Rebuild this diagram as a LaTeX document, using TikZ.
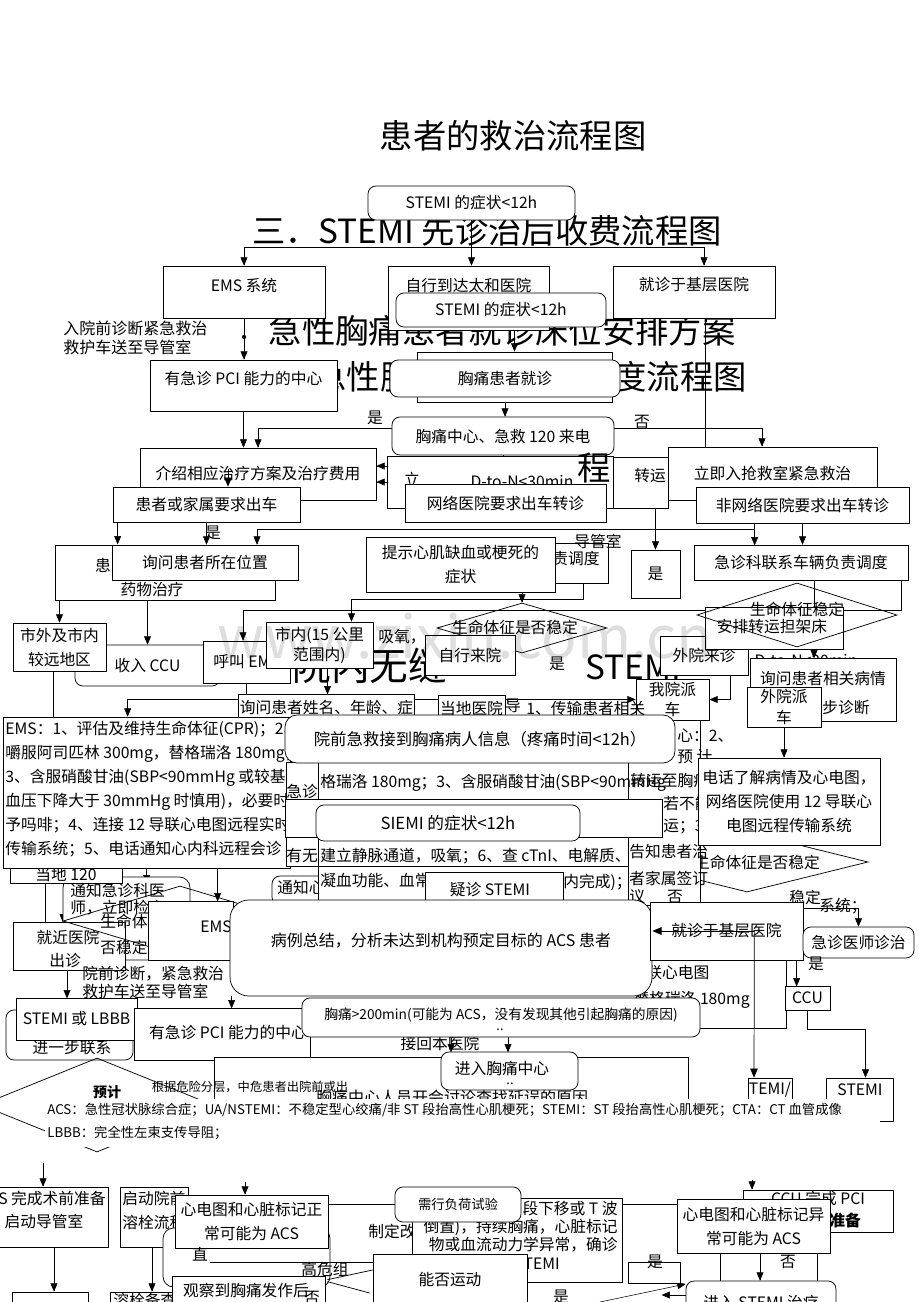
\documentclass[tikz,border=0pt]{standalone}
\usepackage{fontspec}
\setmainfont{Noto Sans CJK SC}
\usepackage{tikz}
\usetikzlibrary{arrows,calc,shapes.geometric,backgrounds}

\begin{document}
\begin{tikzpicture}[x=0.75pt,y=-0.75pt,line width=0.55pt,>=triangle 45,
		box/.style={draw,fill=white,inner sep=1pt,align=center,font=\fontsize{11.8}{18}\selectfont},
		rbox/.style={box,rounded corners=6pt},
		wh/.style 2 args={minimum width=#1*0.75pt,minimum height=#2*0.75pt},
		txt/.style={inner sep=0pt,align=left,font=\fontsize{11.8}{18}\selectfont},
		big/.style={inner sep=0pt,font=\fontsize{25}{30}\selectfont},
		smtxt/.style={font=\fontsize{9.5}{12}\selectfont},
		dia/.style={draw,diamond,inner sep=0pt}]
		\useasboundingbox (0,0) rectangle (920,1302);
		\begin{scope}[on background layer]
		\fill[white] (0,0) rectangle (920,1302);
		\end{scope}
		\node[big] (t0) at (513,136) {患者的救治流程图};
		\node[big] (h3) at (487,231) {三．STEMI 先诊治后收费流程图};
		\node[big] (h2) at (502,331) {急性胸痛患者就诊床位安排方案};
		\node[big] (h4) at (530,377) {急性胸痛患者院内调度流程图};
		\node[big,font=\fontsize{29}{32}\selectfont,anchor=west] (h6) at (292,666) {院内无缝};
		\node[big,anchor=west] (h7) at (585,667) {STEMI};
		
		\node[rbox,wh={207}{34}] (s1) at (471.5,203) {STEMI 的症状<12h};
		\node[box,wh={162}{52}] (ems) at (244,292) {};
		\node[txt] (emsl) at (244,285) {EMS 系统};
		\node[box,wh={161}{64}] (zx) at (468.5,298) {};
		\node[txt] (zxl) at (468.5,285) {自行到达太和医院};
		\node[box,wh={162}{52}] (jz) at (694,292) {};
		\node[txt] (jzl) at (694,285) {就诊于基层医院};
		\node[txt,anchor=west,font=\fontsize{12}{14.5}\selectfont] (rq) at (63,338) {入院前诊断紧急救治\\救护车送至导管室};
		\node[rbox,wh={210}{34}] (s2) at (501,310) {STEMI 的症状<12h};
		\node[box,wh={187}{51}] (pci1) at (243.5,385.5) {};
		\node[txt] (pci1l) at (243.5,379) {有急诊 PCI 能力的中心};
		\node[box,wh={195}{50}] (bk1) at (514.5,377) {};
		\node[rbox,wh={230}{37}] (r1) at (505,378.5) {胸痛患者就诊};
		\node[txt] (yes1) at (375,418) {是};
		\node[txt] (no1) at (642,422) {否};
		\node[rbox,wh={222}{38}] (r2) at (503,436) {胸痛中心、急救 120 来电};
		\node[box,wh={236}{52}] (js) at (258,474) {介绍相应治疗方案及治疗费用};
		\node[box,wh={226}{52}] (bk2) at (500,482) {};
		\node[txt] (li) at (412,479) {立};
		\node[txt] (dtn1) at (522,482) {D-to-N<30min};
		\node[big] (h5) at (594,468) {程};
		\node[box,wh={209}{53}] (qj) at (772.5,473.5) {立即入抢救室紧急救治};
		\node[box,wh={55}{51}] (zy) at (640.5,482.5) {};
		\node[txt] (zyl) at (650,476) {转运};
		\node[box,wh={187}{35}] (hz) at (206.5,504.5) {患者或家属要求出车};
		\draw[->] ($(js.center)+(-30,-5)$) -- ($(hz.north)+(21.5,0)$);
		\node[box,wh={201}{38}] (wl) at (505.5,503) {网络医院要求出车转诊};
		\node[box,wh={213}{36}] (fw) at (802.5,505) {非网络医院要求出车转诊};
		\node[txt] (yes2) at (213,533) {是};
		\node[box,wh={220}{55}] (hz2) at (165,572.5) {};
		\node[txt] (hz2a) at (103,565) {患};
		\node[txt] (hz2b) at (152,589) {药物治疗};
		\node[box,wh={186}{35}] (xw) at (205,562.5) {询问患者所在位置};
		\node[box,wh={68}{40}] (fd) at (574,563) {};
		\node[txt,anchor=east] (fdl) at (600,558) {负责调度};
		\node[txt,anchor=east] (dgs) at (622,541) {导管室};
		\node[box,wh={189}{55}] (ts) at (460.5,564.5) {提示心肌缺血或梗死的\\症状};
		\node[box,wh={49}{48}] (sbx) at (655.5,574) {是};
		\node[box,wh={214}{35}] (jd) at (801,562.5) {急诊科联系车辆负责调度};
		
		\node[rbox,wh={145}{41}] (ccu) at (147.5,665.5) {收入 CCU};
		\node[box,wh={93}{48}] (sw) at (59.5,647) {市外及市内\\较远地区};
		\node[box,wh={87}{42}] (hj) at (246.5,662) {呼叫 EMS};
		\node[box,wh={107}{46},font=\fontsize{11.8}{15}\selectfont] (sn) at (319.5,645) {市内(15 公里\\范围内)};
		\node[txt] (xy) at (402,637) {吸氧，};
		\node[dia,wh={170}{50}] (sm1) at (522,628) {};
		\node[txt] (sm1l) at (515,627) {生命体征是否稳定};
		\node[box,wh={90}{40}] (zx2) at (470,655) {自行来院};
		\node[txt] (yes3) at (557,664) {是};
		\node[box,wh={88}{39}] (wy) at (704,655.5) {外院来诊};
		\node[box,wh={138}{42}] (ap) at (774,628) {};
		\node[txt] (apl) at (772,627) {安排转运担架床};
		\node[dia,wh={200}{64}] (sm2) at (797,615) {};
		\node[txt] (sm2l) at (797,609) {生命体征稳定};
		\node[txt] (dtn2) at (806,660) {D-to-N<30min};
		\node[box,wh={146}{63}] (xb) at (823,689.5) {};
		\node[txt] (xbl) at (823,678) {询问患者相关病情};
		\node[txt,anchor=east] (xbl2) at (870,708) {初步诊断};
		\node[box,wh={74}{40},font=\fontsize{11.8}{15.5}\selectfont] (wp) at (784,707) {外院派\\车};
		\node[box,wh={73}{41},font=\fontsize{11.8}{15.5}\selectfont] (wo) at (672.5,699.5) {我院派\\车};
		\node[box,wh={173}{27}] (xm) at (326.5,707.5) {询问患者姓名、年龄、症};
		\node[box,wh={67}{26}] (dy) at (471.5,708) {当地医院};
		\node[txt] (dyd) at (513,706) {导};
		\node[txt,anchor=west] (cs1) at (526,708) {1、传输患者相关};
		
		\node[rbox,wh={127}{83},rounded corners=8pt] (tzj) at (126.5,918.5) {};
		\node[txt,anchor=west] (tzj1) at (70,890) {通知急诊科医};
		\node[txt,anchor=west] (tzj2) at (70,908) {师，立即检查};
		\node[box,wh={112}{28}] (dd) at (66,869) {};
		\node[txt] (ddl) at (66,875) {当地 120};
		\node[box,wh={287}{151}] (et) at (146.5,792.5) {};
		\node[txt,anchor=north west] (etl) at (5,721) {EMS：1、评估及维持生命体征(CPR)；2、\\嚼服阿司匹林 300mg，替格瑞洛 180mg；\\3、含服硝酸甘油(SBP<90mmHg 或较基础\\血压下降大于 30mmHg 时慎用)，必要时给\\予吗啡；4、连接 12 导联心电图远程实时\\传输系统；5、电话通知心内科远程会诊};
		\node[dia,wh={242}{60}] (sm3) at (747,862) {};
		\node[txt] (sm3l) at (757,862) {生命体征是否稳定};
		\node[box,wh={74}{185}] (cl) at (663,812.5) {};
		\node[txt,anchor=west] (cla) at (677,736) {心：2、};
		\node[txt,anchor=west] (clb) at (677,757) {预 计};
		\node[txt,anchor=west] (clc) at (630,780) {转运至胸痛};
		\node[txt,anchor=west] (cld) at (663,803) {若不能};
		\node[txt,anchor=west] (cle) at (663,827) {运；3};
		\node[txt,anchor=west] (clf) at (629,852) {告知患者治};
		\node[txt,anchor=west] (clg) at (629,878) {者家属签订};
		\node[txt,anchor=west] (clh) at (629,897) {议};
		\node[txt] (cli) at (675,897) {否};
		\node[box,wh={182}{87}] (dh) at (789,801.5) {电话了解病情及心电图，\\网络医院使用 12 导联心\\电图远程传输系统};
		\node[box,wh={342}{104}] (mb1) at (457,814) {};
		\node[txt,anchor=west] (mb1a) at (320,783) {格瑞洛 180mg；3、含服硝酸甘油(SBP<90mmHg};
		\node[txt,anchor=west] (mb1b) at (320,856) {建立静脉通道，吸氧；6、查 cTnI、电解质、};
		\node[txt] (mb1c) at (302,791) {急诊};
		\node[txt] (mb1d) at (302,856) {有无};
		\node[rbox,wh={58}{29}] (tz) at (301,890.5) {};
		\node[txt,anchor=west] (tzl) at (277,888) {通知心内科};
		\node[box,wh={310}{39}] (mb2) at (473,885.5) {};
		\node[txt,anchor=west] (mb2a) at (320,881) {凝血功能、血常规};
		\node[txt,anchor=west] (mb2b) at (563,882) {内完成)；};
		\draw (318,762) -- (318,905);
		\node[box,wh={377}{38}] (sq) at (473.5,818) {};
		\node[rbox,wh={390}{48},rounded corners=9pt,font=\fontsize{12.3}{15}\selectfont] (yq) at (480,739) {院前急救接到胸痛病人信息（疼痛时间<12h）};
		\node[rbox,wh={264}{36},font=\fontsize{12.5}{15}\selectfont] (si) at (448,823) {SIEMI 的症状<12h};
		\node[box,wh={138}{40}] (yz) at (494,892) {};
		\node[txt] (yzl) at (490,890) {疑诊 STEMI};
		
		\node[box,wh={112}{48}] (jj) at (69,946) {};
		\node[txt] (jjl1) at (68,937) {就近医院};
		\node[txt] (jjl2) at (65,960) {出诊};
		\node[dia,wh={234}{70}] (dm) at (180,921) {};
		\node[txt,anchor=west] (dml1) at (100,921) {生命体征是};
		\node[txt,anchor=west] (dml2) at (100,947) {否稳定};
		\node[box,wh={85}{59}] (em2) at (190.5,930.5) {};
		\node[txt,anchor=west] (em2l) at (200,927) {EMS};
		\node[box,wh={146}{68}] (lx) at (713,994) {};
		\node[txt,anchor=west] (lxl) at (646,973) {联心电图};
		\node[txt,anchor=east] (lx2) at (750,1000) {替格瑞洛 180mg};
		\node[rbox,wh={422}{96},rounded corners=14pt] (bl) at (441,948) {};
		\node[txt,font=\fontsize{12}{15}\selectfont] (bll) at (441,941) {病例总结，分析未达到机构预定目标的 ACS 患者};
		\node[txt,anchor=west,font=\fontsize{11.8}{13.5}\selectfont] (yqz) at (82,982) {院前诊断，紧急救治\\救护车送至导管室};
		\node[txt] (wd) at (805,897) {稳定};
		\node[txt] (xt) at (843,906) {系统；};
		\node[box,wh={153}{58}] (j2) at (726.5,931) {就诊于基层医院};
		\draw[->] ($(j2.east)+(-49,0)$) -- (j2.center -| bl.east);
		\node[rbox,wh={111}{31}] (ys) at (858.5,942.5) {急诊医师诊治};
		\node[txt] (yes4) at (816,964) {是};
		\node[box,wh={45}{24}] (ccu3) at (807.5,998) {CCU};
		
		\node[rbox,wh={127}{50}] (jy) at (69.5,1035) {};
		\node[txt] (jyl) at (72,1048) {进一步联系};
		\node[box,wh={121}{42}] (sl) at (76.5,1019) {STEMI 或 LBBB};
		\node[box,wh={176}{52}] (pc2) at (222,1034) {};
		\node[txt] (pc2l) at (228,1033) {有急诊 PCI 能力的中心};
		\node[dia,wh={232}{94}] (dm2) at (97,1105) {};
		\node[box,wh={474}{43}] (bb) at (451,1078.5) {};
		\node[txt,font=\fontsize{9.2}{11}\selectfont] (gj) at (250,1087) {根据危险分层，中危患者出院前或出};
		\node[txt,font=\fontsize{12}{14}\selectfont] (kh) at (452,1097) {胸痛中心人员开会讨论查找延误的原因};
		\node[txt,font=\bfseries\fontsize{10.5}{12}\selectfont] (yj) at (107,1092) {预计};
		\node[txt] (jh) at (440,1043) {接回本医院};
		\node[rbox,wh={137}{38}] (jr) at (509.5,1071) {};
		\node[txt] (jrl) at (502,1068) {进入胸痛中心};
		\node[txt,smtxt] (jrd) at (510,1084) {..};
		\node[rbox,wh={398}{39}] (pr) at (501,1017.5) {};
		\node[txt,font=\fontsize{10.3}{12}\selectfont] (prl) at (501,1015) {胸痛>200min(可能为 ACS，没有发现其他引起胸痛的原因)};
		\node[txt,smtxt] (prd) at (500,1030) {..};
		\node[box,wh={44}{32}] (tm) at (770,1094) {};
		\node[txt] (tml) at (770,1090) {TEMI/};
		\draw[->] ($(j2.east)+(-49,0)$) -- ($(tm.north)+(-16,0)$);
		\node[box,wh={67}{43}] (st2) at (859.5,1099.5) {};
		\node[txt] (st2l) at (860,1090) {STEMI};
		\node[fill=white,inner sep=0pt,anchor=north west,wh={835}{48}] (nb) at (45,1099) {};
		\node[txt,anchor=west,font=\fontsize{10}{12}\selectfont] (n1) at (47,1110) {ACS：急性冠状脉综合症；UA/NSTEMI：不稳定型心绞痛/非 ST 段抬高性心肌梗死；STEMI：ST 段抬高性心肌梗死；CTA：CT 血管成像};
		\node[txt,anchor=west,font=\fontsize{10}{12}\selectfont] (n2) at (47,1133) {LBBB：完全性左束支传导阻；};
		
		\node[box,wh={120}{60}] (cs) at (48,1217) {};
		\node[txt,anchor=east] (csl) at (106,1198) {S 完成术前准备};
		\node[txt] (cs2) at (44,1221) {启动导管室};
		\node[box,wh={76}{40}] (b1) at (50,1312) {};
		\node[box,wh={68}{60}] (qd) at (154,1217) {};
		\node[txt,anchor=west] (qdl) at (122,1210) {启动院前\\溶栓流程};
		\node[box,wh={62}{40}] (b2) at (141,1312) {};
		\node[txt,anchor=west] (b2l) at (113,1300) {溶栓备查};
		\node[rbox,wh={167}{59},rounded corners=8pt] (rr) at (246.5,1257.5) {};
		\node[box,wh={153}{53}] (zb) at (251.5,1221.5) {心电图和心脏标记正\\常可能为 ACS};
		\node[txt] (zhi) at (200,1254) {直};
		\node[txt] (gw) at (325,1270) {高危组};
		\node[box,wh={153}{40}] (gc) at (248.5,1296) {};
		\node[txt] (gcl) at (246,1290) {观察到胸痛发作后};
		\node[txt] (no2) at (312,1298) {否};
		\node[txt,anchor=west] (zdg) at (368,1231) {制定改};
		\node[box,wh={210}{84}] (qz) at (517,1240) {};
		\node[txt,anchor=east] (qz1) at (618,1208) {段下移或 T 波};
		\node[txt,anchor=east] (qz2) at (618,1227) {倒置)，持续胸痛，心脏标记};
		\node[txt,anchor=east] (qz3) at (618,1245) {物或血流动力学异常，确诊};
		\node[txt,anchor=east] (qz4) at (560,1264) {STEMI};
		\node[rbox,wh={126}{35},font=\fontsize{10}{12}\selectfont] (fh) at (458,1204.5) {需行负荷试验};
		\node[box,wh={154}{56}] (nf) at (450,1282) {};
		\node[txt] (nfl) at (450,1280) {能否运动};
		\node[txt] (yes5) at (561,1297) {是};
		\node[box,wh={52}{21}] (sb) at (654,1272.5) {};
		\node[txt] (yes6) at (655,1262) {是};
		\node[box,wh={150}{42}] (cc2) at (818,1211) {};
		\node[txt] (cc2l) at (818,1198) {CCU 完成 PCI};
		\node[txt,font=\bfseries\fontsize{11.8}{14}\selectfont] (cc2b) at (845,1220) {准备};
		\node[box,wh={153}{54}] (yc) at (753.5,1226) {心电图和心脏标记异\\常可能为 ACS};
		\node[txt] (no3) at (788,1262) {否};
		\node[rbox,wh={150}{40}] (st3) at (761,1301) {};
		\node[txt] (st3l) at (761,1302) {进入 STEMI 治疗};
		\coordinate (c5) at (210,1262);
		\draw (c5) -- (c5 -| nf.west);
		\draw ($(gc.north east)+(2,4)$) -- ($(nf.west)+(0,-12)$);
		\draw ($(gc.north east)+(2,6)$) -- ($(nf.west)+(-3,11)$);
		
		\coordinate (hb) at (473,247);
		\coordinate (dt) at (244,337);
		\coordinate (c0) at (43,1163);
		\coordinate (c2) at (245,1182);
		\coordinate (c3) at (752,1180);
		\coordinate (c6) at (600,1302);
		\begin{scope}[on background layer]
		\draw[->] (s1.south) -- (s1.south |- zx.north);
		\draw[->] (s1.south |- hb) -| (ems.north);
		\draw[->] (s1.south |- hb) -| ($(jz.north)+(10,0)$);
		\draw[->] (ems.south) -- (ems.south |- pci1.north);
		\fill (dt) circle (1.6pt);
		\draw[->] (s2.south -| bk1.north) -- (bk1.north);
		\draw[->] (r1.south) -- (r1.south |- r2.north);
		\draw[->] ($(r2.west)+(0,-8)$) -| (js.north);
		\draw[->] ($(r2.east)+(0,-8)$) -| ($(qj.north)+(-10.5,0)$);
		\draw[->] (pci1.south) -- (pci1.south |- js.north);
		\draw[->] ($(jz.south)+(11,0)$) |- ($(js.east)+(0,-8)$);
		\draw[->] (bk2.west) -- (bk2.west -| js.east);
		\draw[->] (r2.south) -- (r2.south |- wl.north);
		\draw[->] (zy.south -| sbx.north) -- (sbx.north);
		\draw[->] (fw.south) -- (fw.south |- jd.north);
		\draw[->] ($(fw.south west)+(59,0)$) -- ++(0,22);
		\draw[->] ($(fw.south west)+(59,0)$) -- ++(0,6) -| ($(xw.north)+(52,0)$);
		\draw[->] ($(hz.south west)+(5,0)$) -- ++(0,22);
		\draw[->] (hz.south) -- (hz.south |- xw.north);
		\draw[->] ($(xw.south)+(-2,0)$) -- ++(0,17);
		\draw[->] (hz2.south -| sw.north) -- (sw.north);
		\draw[->] (hz2.south -| ccu.north) -- (ccu.north);
		\draw[->] ($(fd.south)+(9,0)$) |- ($(sn.north)+(32,-22)$) -- ($(sn.north)+(32,0)$);
		\draw[->] ($(jd.south)+(100,0)$) |- ($(hj.north)+(-3.5,-30)$) -- ($(hj.north)+(-3.5,0)$);
		\draw[->] ($(jd.south)+(13,0)$) -- ++(0,78);
		\draw[->] (ts.south -| sm1.north) -- (sm1.north);
		\draw[->] ($(wy.south)+(26,0)$) |- (wo.east);
		\draw[->] (xm.east |- wo.west) -- (wo.west);
		\draw[->] (wp.south) -- (wp.south |- dh.north);
		\draw ($(sw.south)+(-6,0)$) -- ++(0,46);
		\draw[->] (hj.south) |- ($(et.north west)+(125,-17)$) -- ($(et.north west)+(125,0)$);
		\draw[->] ($(sn.south)+(8,0)$) -- ++(0,26);
		\draw[->] (yq.south) -- (yq.south |- sq.north);
		\draw[->] ($(si.south)+(40,0)$) -- ++(0,31);
		\draw ($(si.south)+(20,0)$) -- ++(0,60);
		\draw[->] ($(et.south west)+(144,0)$) -- ++(0,15);
		\draw[->] ($(et.south west)+(215,0)$) -- ++(0,33);
		\draw[->] ($(dd.south)+(-3,0)$) -- ++(0,39);
		\draw ($(dd.south)+(-21,0)$) -- ++(0,39);
		\draw[->] ($(jj.south)+(-2,0)$) -- ++(0,28);
		\draw[->] ($(bl.south west)+(2,0)$) -- ++(0,12);
		\draw[->] ($(ys.south west)+(-6,0)$) -- ++(0,28);
		\draw[->] (ccu3.south) |- ($(st2.north)+(6,-48)$) -- ($(st2.north)+(6,0)$);
		\draw[->] ($(j2.north east)+(0,7)$) -| (ys.north);
		\draw[->] ($(pr.south)+(7,0)$) -- ++(0,15);
		\draw[->] ($(pr.south)+(-50,0)$) -- ++(0,15);
		\draw[->] (c0) -- (c0 |- cs.north);
		\draw[->] ($(cs.south)+(6,0)$) -- ($(b1.north)+(4,0)$);
		\draw[->] ($(qd.south)+(-2,0)$) -- ($(b2.north)+(11,0)$);
		\draw[->] ($(zb.south)+(-6.5,0)$) -- ($(gc.north)+(-3.5,0)$);
		\draw[->] (c2) -- (c2 |- zb.north);
		\draw[->] (c3) -- (c3 |- cc2.north);
		\draw[->] ($(yc.south)+(6.5,0)$) -- ($(st3.north)+(-1,0)$);
		\draw ($(yc.south)+(-33.5,0)$) -- ($(st3.north)+(-41,0)$);
		\draw ($(yc.south)+(63.5,0)$) -- ($(st3.north)+(56,0)$);
		\draw[->] ($(st3.west)+(0,-6)$) -- ++(-24,0);
		\draw[->] (c6) -- ($(st3.west)+(0,-17)$);
		\draw (zb.east |- fh.west) -- (fh.west);
		\draw (fh.east) -- (fh.east -| yc.west);
		\end{scope}
		\node[text opacity=0.13,font=\fontsize{44}{48}\selectfont] (wm) at (465,636) {www.zixin.com.cn};
\end{tikzpicture}
\end{document}
